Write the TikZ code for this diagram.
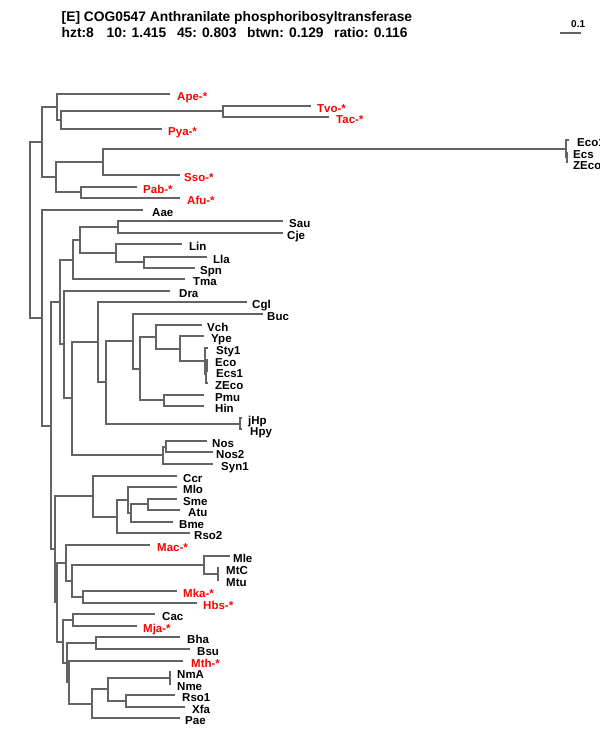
\documentclass[tikz,border=0pt]{standalone}
\usepackage{fontspec}
\setmainfont{Liberation Sans}
\definecolor{brc}{RGB}{100,100,100}
\definecolor{lred}{RGB}{255,0,0}
\begin{document}
\begin{tikzpicture}[x=1pt,y=-1pt,
  br/.style={draw=brc,line width=1.8pt,line join=miter},
  lab/.style={anchor=base west,inner sep=0pt,font=\bfseries\fontsize{11.5}{13}\selectfont},
  rlab/.style={lab,text=lred},
  ttl/.style={anchor=base west,inner sep=0pt,font=\bfseries\fontsize{13.8}{15}\selectfont},
  sml/.style={anchor=base west,inner sep=0pt,font=\bfseries\fontsize{10}{12}\selectfont}]
\useasboundingbox (0,0) rectangle (600,750);
\clip (0,0) rectangle (600,750);
\fill[white] (0,0) rectangle (600,750);
% header
\node[ttl] (title) at (61.5,21) {[E] COG0547 Anthranilate phosphoribosyltransferase};
\node[ttl] (s1) at (61.5,37.5) {hzt:8};
\node[ttl] (s2) at (106.5,37.5) {10: 1.415};
\node[ttl] (s3) at (176.8,37.5) {45: 0.803};
\node[ttl] (s4) at (247,37.5) {btwn: 0.129};
\node[ttl] (s5) at (334,37.5) {ratio: 0.116};
\coordinate (sb1) at (560,33);
\coordinate (sb2) at (581,33);
\draw[draw=brc,line width=1.4pt] (sb1) -- (sb2);
\node[sml] (sbl) at (571,27) {0.1};
% leaves
\foreach \nm/\ex/\yy/\lx/\tx/\st in {
Ape/170/94/177/Ape-*/rlab,
Tvo/311/106/317/Tvo-*/rlab,
Tac/329/117/336/Tac-*/rlab,
Pya/162/129/168/Pya-*/rlab,
EcoA/569/140/577/Eco1/lab,
Ecs/567/152/573/Ecs/lab,
ZEcoA/567/163/573/ZEco/lab,
Sso/180/175/184/Sso-*/rlab,
Pab/137/187/143/Pab-*/rlab,
Afu/180/198/187/Afu-*/rlab,
Aae/143/210/152/Aae/lab,
Sau/283/221/289/Sau/lab,
Cje/283/233/287/Cje/lab,
Lin/182/244/189/Lin/lab,
Lla/207/257/213/Lla/lab,
Spn/195/268/200/Spn/lab,
Tma/185/279/193/Tma/lab,
Dra/170/291/179/Dra/lab,
Cgl/247/302/252/Cgl/lab,
Buc/263/314/267/Buc/lab,
Vch/202/325/207/Vch/lab,
Ype/204/336/211/Ype/lab,
Sty/208/348/216/Sty1/lab,
EcoB/208/360/215/Eco/lab,
Ecs1/208/371/216/Ecs1/lab,
ZEcoB/208/383/215/ZEco/lab,
Pmu/204/395/215/Pmu/lab,
Hin/204/406/215/Hin/lab,
jHp/242/418/248/jHp/lab,
Hpy/242/429/250/Hpy/lab,
Nos/207/441/212/Nos/lab,
NosB/213/452/216/Nos2/lab,
Syn/213/464/221/Syn1/lab,
Ccr/177/476/183/Ccr/lab,
Mlo/177/487/183/Mlo/lab,
Sme/177/499/183/Sme/lab,
Atu/180/510/188/Atu/lab,
Bme/173/522/179/Bme/lab,
RsoB/190/533/194/Rso2/lab,
Mac/150/545/157/Mac-*/rlab,
Mle/230/556/233/Mle/lab,
MtC/219/568/226/MtC/lab,
Mtu/219/580/226/Mtu/lab,
Mka/177/591/183/Mka-*/rlab,
Hbs/197/603/203/Hbs-*/rlab,
Cac/155/614/162/Cac/lab,
Mja/137/626/143/Mja-*/rlab,
Bha/180/637/187/Bha/lab,
Bsu/190/649/197/Bsu/lab,
Mth/183/661/191/Mth-*/rlab,
NmA/171/672/177/NmA/lab,
Nme/171/684/177/Nme/lab,
RsoA/175/695/182/Rso1/lab,
Xfa/185/707/192/Xfa/lab,
Pae/180/718/185/Pae/lab}{
  \coordinate (\nm) at (\ex,\yy);
  \node[\st] (t\nm) at (\lx,\yy+6) {\tx};
}
% internal nodes
\foreach \nm/\ex/\yy in {
R/30/230, Narch/42/142, Nbact/42/318,
Na1/57/107, Na1b/61/120, Ntt/223/111,
Na2/56/177, Neco/103/162, Necs/566/149, Necs2/567/157, Npa/81/192,
Nb1/51/426, Nb2/60/302, Nfc/73/260, Nfc1/80/240, Nsc/118/227,
Nll/116/253, Nls/144/262, Nb4/64/344, Nb5/72/398, Ngp/98/342,
Ngp2/106/382, Nent/133/341, Nent2/140/369, Nvy/156/337, Nys/180/349,
Nec/205/361, Nec2/206/374, Nec3/207/365, Nph/164/400, Nhp/240/424,
Nnos/163/455, Nnos2/166/447,
Nb3/55/549, Nrh/93/496, Nrh2/117/517, Nrh3/128/500, Nrh4/131/513,
Nsa/148/504, Nb6/57/602, Nmac/66/563, Nmk/72/581, Nml/204/565,
Nmt/218/574, Nmh/83/597, Nlow/63/642, Ncm/73/620, Nlw2/67/663,
Nbb/96/643, Nlw3/69/682, Nps/92/704, Nnx/108/689, Nnm/170/678,
Nrx/126/701}{
  \coordinate (\nm) at (\ex,\yy);
}
% branches
\foreach \p/\c in {
R/Narch, R/Nbact,
Narch/Na1, Narch/Na2,
Na1/Ape, Na1/Na1b,
Na1b/Ntt, Na1b/Pya,
Ntt/Tvo, Ntt/Tac,
Na2/Neco, Na2/Npa,
Neco/Necs, Neco/Sso,
Necs/EcoA, Necs/Necs2,
Necs2/Ecs, Necs2/ZEcoA,
Npa/Pab, Npa/Afu,
Nbact/Aae, Nbact/Nb1,
Nb1/Nb2, Nb1/Nb3,
Nb2/Nfc, Nb2/Nb4,
Nfc/Nfc1, Nfc/Tma,
Nfc1/Nsc, Nfc1/Nll,
Nsc/Sau, Nsc/Cje,
Nll/Lin, Nll/Nls,
Nls/Lla, Nls/Spn,
Nb4/Dra, Nb4/Nb5,
Nb5/Ngp, Nb5/Nnos,
Ngp/Cgl, Ngp/Ngp2,
Ngp2/Nent, Ngp2/Nhp,
Nent/Buc, Nent/Nent2,
Nent2/Nvy, Nent2/Nph,
Nvy/Vch, Nvy/Nys,
Nys/Ype, Nys/Nec,
Nec/Sty, Nec/Nec2,
Nec2/Nec3, Nec2/ZEcoB,
Nec3/EcoB, Nec3/Ecs1,
Nph/Pmu, Nph/Hin,
Nhp/jHp, Nhp/Hpy,
Nnos/Nnos2, Nnos/Syn,
Nnos2/Nos, Nnos2/NosB,
Nb3/Nrh, Nb3/Nb6,
Nrh/Ccr, Nrh/Nrh2,
Nrh2/Nrh3, Nrh2/RsoB,
Nrh3/Mlo, Nrh3/Nrh4,
Nrh4/Nsa, Nrh4/Bme,
Nsa/Sme, Nsa/Atu,
Nb6/Nmac, Nb6/Nlow,
Nmac/Mac, Nmac/Nmk,
Nmk/Nml, Nmk/Nmh,
Nml/Mle, Nml/Nmt,
Nmt/MtC, Nmt/Mtu,
Nmh/Mka, Nmh/Hbs,
Nlow/Ncm, Nlow/Nlw2,
Ncm/Cac, Ncm/Mja,
Nlw2/Nbb, Nlw2/Nlw3,
Nbb/Bha, Nbb/Bsu,
Nlw3/Mth, Nlw3/Nps,
Nps/Nnx, Nps/Pae,
Nnx/Nnm, Nnx/Nrx,
Nnm/NmA, Nnm/Nme,
Nrx/RsoA, Nrx/Xfa}{
  \draw[br] (\p) |- (\c);
}
\end{tikzpicture}
\end{document}
